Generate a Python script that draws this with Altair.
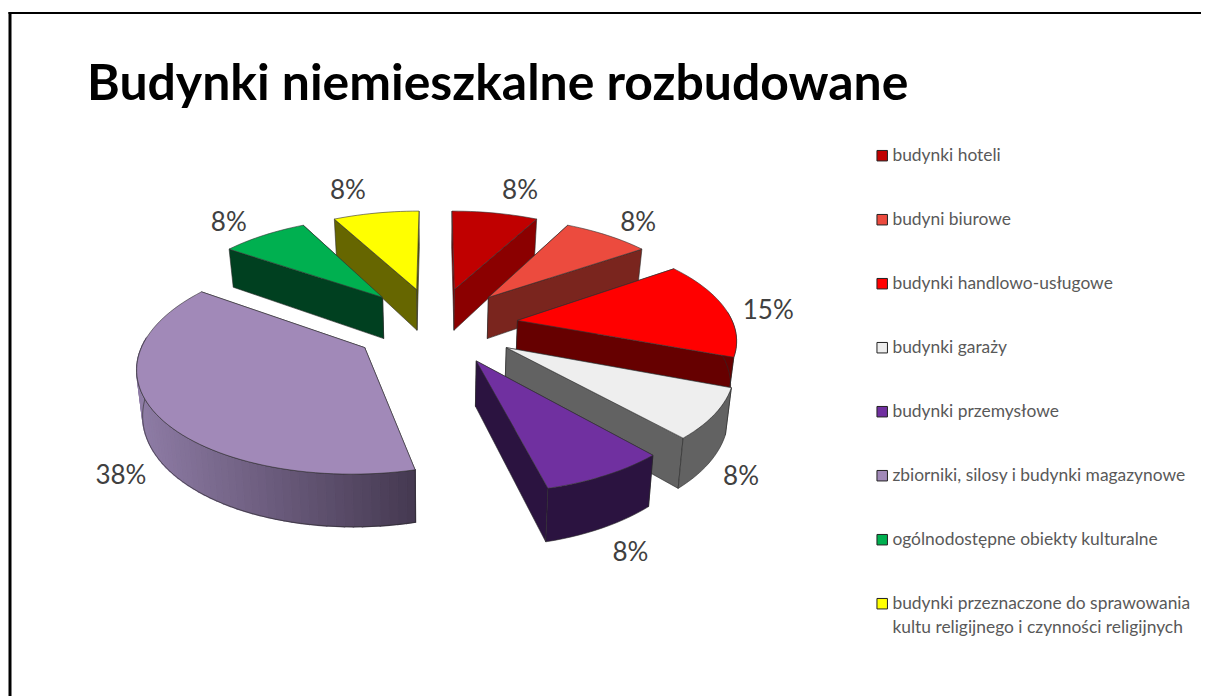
import math
import altair as alt

categories = [
    "budynki hoteli",
    "budyni biurowe",
    "budynki handlowo-usługowe",
    "budynki garaży",
    "budynki przemysłowe",
    "zbiorniki, silosy i budynki magazynowe",
    "ogólnodostępne obiekty kulturalne",
    "budynki przeznaczone do sprawowania\nkultu religijnego i czynności religijnych",
]
counts = [1, 1, 2, 1, 1, 5, 1, 1]
top_colors = ["#C00000", "#EC4B3E", "#FF0000", "#EEEEEE", "#7030A0", "#A189B8", "#00B050", "#FFFF00"]
wall_left = ["#8B0000", "#7A251E", "#660000", "#626262", "#2B1340", "#8F7DA6", "#004020", "#666600"]
wall_right = ["#8B0000", "#7A251E", "#660000", "#626262", "#2B1340", "#463A52", "#004020", "#666600"]
label_nudge = [(25, -22), (31, -12), (43, 2), (32, 14), (28, 25), (-41, 13), (-35, -12), (-28, -22)]

CX, CY, A, B, K, EXPLODE, H, BOTTOM_X = 435.5, 325, 216, 100, 0.15, 0.385, 43, 0.98
FONT = "Lato"


def project(u, v, bottom=False):
    w = 1 + K * v
    x = A * u / w
    y = CY - B * v / w
    if bottom:
        x *= BOTTOM_X
        y += H / w
    return [CX + x - 8, y - 8]


def rim(mid, t):
    return (
        EXPLODE * math.sin(mid) + math.sin(t),
        EXPLODE * math.cos(mid) + math.cos(t),
    )


def mix(c1, c2, f):
    a = [int(c1[i:i + 2], 16) for i in (1, 3, 5)]
    b = [int(c2[i:i + 2], 16) for i in (1, 3, 5)]
    return "#%02x%02x%02x" % tuple(round(p + (q - p) * f) for p, q in zip(a, b))


def feature(ring, **props):
    ring = ring + [ring[0]]
    return {"type": "Feature", "geometry": {"type": "Polygon", "coordinates": [ring]}, "properties": props}


total = sum(counts)
walls, tops, labels = [], [], []
edge = "#2a2a2a"
acc = 0
for i, n in enumerate(counts):
    t0 = 2 * math.pi * acc / total
    t1 = 2 * math.pi * (acc + n) / total
    acc += n
    mid = (t0 + t1) / 2
    apex = (EXPLODE * math.sin(mid), EXPLODE * math.cos(mid))
    steps = max(14, 14 * n)
    ts = [t0 + (t1 - t0) * s / steps for s in range(steps + 1)]
    pts = [rim(mid, t) for t in ts]
    # cut faces, the farther one first
    ends = sorted((pts[0], pts[-1]), key=lambda p: -p[1])
    for p in ends:
        walls.append(feature(
            [project(*apex), project(*p), project(*p, True), project(*apex, True)],
            fill=wall_right[i], stroke=edge, sw=0.6))
    # outer rim: only the part that faces the viewer
    front = [p for p, t in zip(pts, ts) if math.cos(t) < 0.12]
    if len(front) >= 2:
        x_all = [project(*p)[0] for p in front]
        xmin, xmax = min(x_all), max(x_all)
        if wall_left[i] != wall_right[i]:
            for s in range(len(front) - 1):
                f = (x_all[s] - xmin) / max(1, xmax - xmin)
                col = mix(wall_left[i], wall_right[i], f)
                walls.append(feature(
                    [project(*front[s]), project(*front[s + 1]), project(*front[s + 1], True), project(*front[s], True)],
                    fill=col, stroke=col, sw=1.4))
            outline_fill = "transparent"
        else:
            outline_fill = wall_left[i]
        walls.append(feature(
            [project(*p) for p in front] + [project(*p, True) for p in reversed(front)],
            fill=outline_fill, stroke=edge, sw=0.6))
    tops.append(feature([project(*apex)] + [project(*p) for p in pts], name=categories[i]))
    # percentage label
    u, v = rim(mid, mid)
    ax, ay = project(u, v, math.cos(mid) < 0)
    labels.append({
        "label": f"{round(100 * n / total)}%",
        "lx": ax + label_nudge[i][0],
        "ly": ay + label_nudge[i][1],
    })

proj = alt.Projection(type="identity", scale=1, translate=[0, 0])

wall_layer = alt.Chart(alt.Data(values=walls)).mark_geoshape().encode(
    fill=alt.Fill("properties.fill:N", scale=None),
    stroke=alt.Stroke("properties.stroke:N", scale=None),
    strokeWidth=alt.StrokeWidth("properties.sw:Q", scale=None),
).project(**proj.to_dict())

top_layer = alt.Chart(alt.Data(values=tops)).mark_geoshape(stroke="#333333", strokeWidth=0.6).encode(
    fill=alt.Fill(
        "properties.name:N",
        scale=alt.Scale(domain=categories, range=top_colors),
        legend=alt.Legend(
            title=None,
            orient="none",
            legendX=865.5,
            legendY=139,
            symbolType="square",
            symbolSize=110,
            symbolStrokeColor="#222222",
            symbolStrokeWidth=1,
            symbolOffset=0,
            labelFont=FONT,
            labelFontSize=17.4,
            labelColor="#595959",
            labelLimit=400,
            labelOffset=1.5,
            labelExpr="split(datum.label, '\\n')",
            rowPadding=45,
            columns=1,
        ),
    ),
).project(**proj.to_dict())

label_layer = alt.Chart(alt.Data(values=labels)).mark_text(
    font=FONT, fontSize=26, color="#404040", align="center", baseline="middle"
).encode(
    x=alt.X("lx:Q", scale=None, axis=None),
    y=alt.Y("ly:Q", scale=None, axis=None),
    text="label:N",
)

frame_top = alt.Chart(alt.Data(values=[{"a": 0}])).mark_rule(color="black", strokeWidth=2).encode(
    x=alt.value(0.5), x2=alt.value(1193), y=alt.value(5)
)
frame_left = alt.Chart(alt.Data(values=[{"a": 0}])).mark_rule(color="black", strokeWidth=3).encode(
    x=alt.value(2), y=alt.value(4), y2=alt.value(688)
)

chart = alt.layer(frame_top, frame_left, wall_layer, top_layer, label_layer).resolve_scale(
    fill="independent", stroke="independent"
).properties(
    width=1193,
    height=688,
    padding=0,
    autosize=alt.AutoSizeParams(type="none"),
    title=alt.TitleParams(
        "Budynki niemieszkalne rozbudowane",
        anchor="start",
        frame="group",
        font=FONT,
        fontSize=49.9,
        fontWeight="bold",
        color="#000000",
        dx=79,
        dy=103,
        offset=0,
    ),
).configure_view(stroke=None)
chart.config.style = {"guide-label": {"lineHeight": 24}}

chart.save("out.html", embed_options={"renderer": "svg", "actions": False})
